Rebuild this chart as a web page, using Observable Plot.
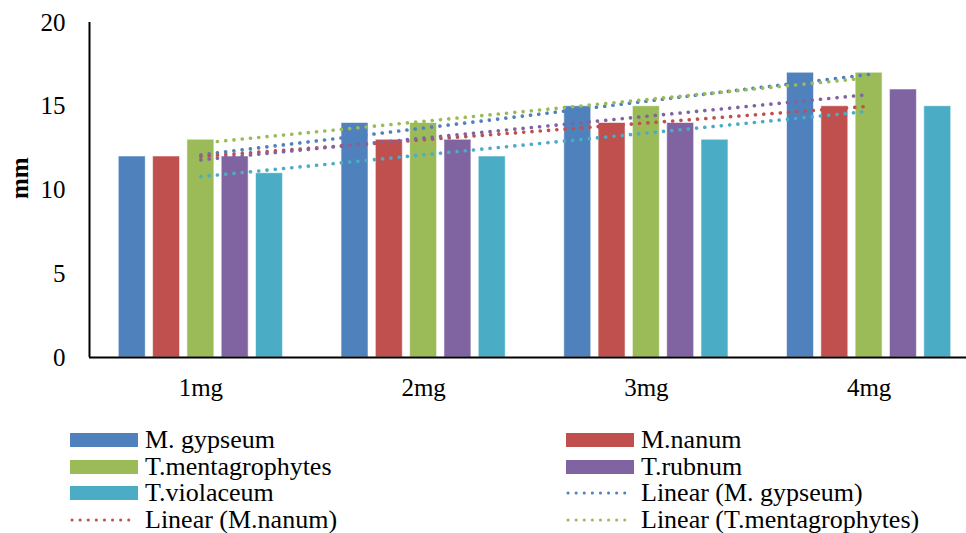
<!DOCTYPE html>
<html><head><meta charset="utf-8">
<script src="https://cdn.jsdelivr.net/npm/d3@7"></script>
<script src="https://cdn.jsdelivr.net/npm/@observablehq/plot@0.6"></script>
<style>
body{margin:0;background:#fff;}
#wrap{position:relative;width:966px;height:533px;overflow:hidden;}
#legend{position:absolute;left:0;top:427px;width:966px;}
.item{position:absolute;display:flex;align-items:center;font-size:26px;line-height:26px;color:#000;white-space:nowrap;}
.item svg{margin-right:7px;}
</style></head>
<body><div id="wrap"><div id="chart"></div><div id="legend"></div></div>
<script>
const categories = ["1mg", "2mg", "3mg", "4mg"];
const seriesNames = ["M. gypseum", "M.nanum", "T.mentagrophytes", "T.rubnum", "T.violaceum"];
const gypseum = [12, 14, 15, 17];
const nanum = [12, 13, 14, 15];
const mentagrophytes = [13, 14, 15, 17];
const rubnum = [12, 13, 14, 16];
const violaceum = [11, 12, 13, 15];
const colors = ["#4F81BD", "#C0504D", "#9BBB59", "#8064A2", "#4BACC6"];
const yTicks = [0, 5, 10, 15, 20];
const legendItems = [
  {label: "M. gypseum", type: "bar", color: colors[0]},
  {label: "M.nanum", type: "bar", color: colors[1]},
  {label: "T.mentagrophytes", type: "bar", color: colors[2]},
  {label: "T.rubnum", type: "bar", color: colors[3]},
  {label: "T.violaceum", type: "bar", color: colors[4]},
  {label: "Linear (M. gypseum)", type: "line", color: colors[0]},
  {label: "Linear (M.nanum)", type: "line", color: colors[1]},
  {label: "Linear (T.mentagrophytes)", type: "line", color: colors[2]}
];

const allValues = [gypseum, nanum, mentagrophytes, rubnum, violaceum];
const data = [];
allValues.forEach((vals, s) => vals.forEach((v, i) => data.push({series: seriesNames[s], sIdx: s, cat: i + 1, value: v})));

const FONT = "'Liberation Serif','Times New Roman',Tinos,'DejaVu Serif',serif";
document.body.style.fontFamily = FONT;
const step = 0.154, bw = 0.121;
const chart = Plot.plot({
  width: 966, height: 410,
  marginLeft: 89, marginRight: 0, marginTop: 22, marginBottom: 53,
  style: {fontFamily: FONT, fontSize: "25px", color: "#000", background: "#fff"},
  x: {domain: [0.5, 4.5], range: [89, 980]},
  y: {domain: [0, 20]},
  color: {domain: seriesNames, range: colors},
  marks: [
    Plot.rectY(data, {
      x1: d => d.cat + (d.sIdx - 2) * step - bw / 2,
      x2: d => d.cat + (d.sIdx - 2) * step + bw / 2,
      y: "value", fill: "series", stroke: "white", strokeOpacity: 0.55, strokeWidth: 1
    }),
    Plot.linearRegressionY(data, {
      x: "cat", y: "value", stroke: "series", ci: 0,
      strokeWidth: 3.6, strokeDasharray: "0.1,8.2", strokeLinecap: "round"
    }),
    Plot.ruleY([0], {stroke: "#000", strokeWidth: 2}),
    Plot.ruleX([0.5], {stroke: "#000", strokeWidth: 2}),
    Plot.axisY({ticks: yTicks, tickSize: 0, tickPadding: 24, label: null, fontSize: 25, fontFamily: FONT}),
    Plot.axisX({ticks: [1, 2, 3, 4], tickFormat: d => categories[d - 1], tickSize: 0, tickPadding: 21, label: null, fontSize: 25, fontFamily: FONT}),
    Plot.text(["mm"], {frameAnchor: "left", dx: -70, dy: 9, rotate: -90, fontWeight: "bold", fontSize: 25, fontFamily: FONT, text: d => d})
  ]
});
document.getElementById("chart").appendChild(chart);

const leg = document.getElementById("legend");
legendItems.forEach((it, i) => {
  const col = i % 2, row = Math.floor(i / 2);
  const el = document.createElement("div");
  el.className = "item";
  el.style.fontFamily = FONT;
  el.style.left = (col ? 566 : 70) + "px";
  el.style.top = (row * 26.5) + "px";
  const sw = it.type === "bar"
    ? `<svg width="68" height="26"><rect x="0" y="6" width="68" height="14" fill="${it.color}"/></svg>`
    : `<svg width="68" height="26"><line x1="2" y1="13" x2="66" y2="13" stroke="${it.color}" stroke-width="3" stroke-dasharray="0.1,8" stroke-linecap="round"/></svg>`;
  el.innerHTML = sw + `<span>${it.label}</span>`;
  leg.appendChild(el);
});
</script></body></html>
